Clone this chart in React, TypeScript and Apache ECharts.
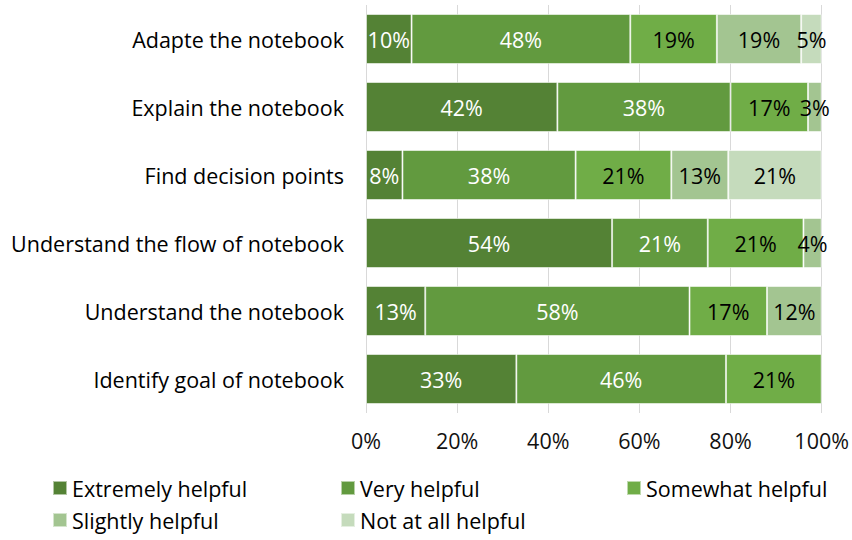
import React, { useEffect, useRef } from "react";
import * as echarts from "echarts";

const categories = [
  "Adapte the notebook",
  "Explain the notebook",
  "Find decision points",
  "Understand the flow of notebook",
  "Understand the notebook",
  "Identify goal of notebook",
];
const seriesNames = [
  "Extremely helpful",
  "Very helpful",
  "Somewhat helpful",
  "Slightly helpful",
  "Not at all helpful",
];
const extremely = [10, 42, 8, 54, 13, 33];
const very = [48, 38, 38, 21, 58, 46];
const somewhat = [19, 17, 21, 21, 17, 21];
const slightly = [18.5, 3, 12.5, 4, 12, 0];
const notAtAll = [4.5, 0, 20.5, 0, 0, 0];
const xTicks = [0, 20, 40, 60, 80, 100];

const colors = ["#548235", "#629a3f", "#70ad47", "#a3c591", "#c5dbbc"];
const labelColors = ["#ffffff", "#ffffff", "#000000", "#000000", "#000000"];
const FONT = "Open Sans";
const FS = 21.5;

export default function App() {
  const ref = useRef<HTMLDivElement>(null);
  useEffect(() => {
    document.body.style.margin = "0";
    document.body.style.overflow = "hidden";
    document.documentElement.style.overflow = "hidden";
    if (!ref.current) return;
    const chart = echarts.init(ref.current, null, { renderer: "svg" });
    const allData = [extremely, very, somewhat, slightly, notAtAll];
    chart.setOption({
      animation: false,
      textStyle: { fontFamily: FONT },
      grid: { left: 366, width: 459, top: 5, height: 408, containLabel: false },
      xAxis: {
        type: "value",
        min: xTicks[0],
        max: xTicks[xTicks.length - 1],
        interval: 20,
        axisLine: { show: false },
        axisTick: { show: false },
        splitLine: { show: true, lineStyle: { color: "#d9d9d9", width: 1 } },
        axisLabel: {
          formatter: (v: number) => v + "%",
          fontSize: FS,
          color: "#111",
          margin: 16,
          fontFamily: FONT,
        },
      },
      yAxis: {
        type: "category",
        inverse: true,
        data: categories,
        axisLine: { show: false },
        axisTick: { show: false },
        axisLabel: { fontSize: FS, color: "#000", margin: 22, fontFamily: FONT },
      },
      legend: [
        { left: 52, top: 477, orient: "vertical", data: [seriesNames[0], seriesNames[3]] },
        { left: 340, top: 477, orient: "vertical", data: [seriesNames[1], seriesNames[4]] },
        { left: 626, top: 477, orient: "vertical", data: [seriesNames[2]] },
      ].map((l) => ({
        ...l,
        icon: "rect",
        itemWidth: 14,
        itemHeight: 14,
        itemGap: 10,
        padding: 0,
        textStyle: { fontSize: FS, color: "#000", fontFamily: FONT },
      })),
      series: seriesNames.map((name, i) => ({
        name,
        type: "bar",
        stack: "total",
        barWidth: 50,
        itemStyle: { color: colors[i], borderColor: "rgba(255,255,255,0.55)", borderWidth: 1 },
        label: {
          show: true,
          position: "inside",
          fontSize: FS,
          fontFamily: FONT,
          color: labelColors[i],
          formatter: (p: any) => (p.value > 0 ? Math.round(p.value) + "%" : ""),
        },
        data: allData[i].map((v) => (v > 0 ? v : null)),
      })),
    });
    return () => chart.dispose();
  }, []);
  return <div ref={ref} style={{ width: 852, height: 540 }} />;
}
